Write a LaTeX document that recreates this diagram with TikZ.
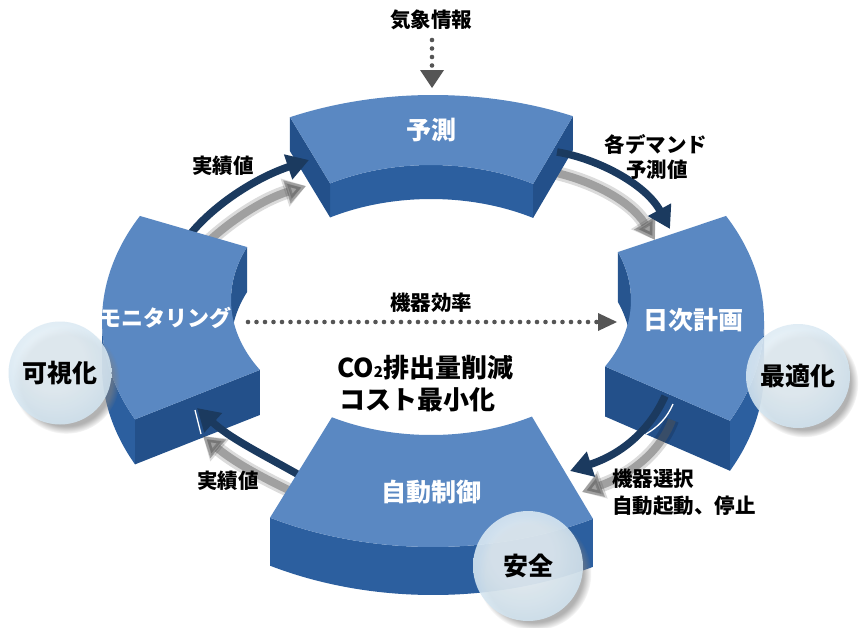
\documentclass[tikz,border=0pt]{standalone}
\usepackage{fontspec}
\newfontfamily\jp{Noto Sans CJK JP}
\usetikzlibrary{arrows.meta,shadows,calc}
\definecolor{topface}{HTML}{5A88C2}
\definecolor{wallc}{HTML}{2C5F9F}
\definecolor{innerc}{HTML}{27558F}
\definecolor{capc}{HTML}{23508A}
\definecolor{arrowc}{HTML}{1B3A5F}
\definecolor{dotc}{HTML}{555555}
\definecolor{bubin}{HTML}{E4EFF6}
\definecolor{bubmid}{HTML}{CBE0EE}
\definecolor{bubedge}{HTML}{9CC3DB}
\pgfdeclareradialshading{bubbleshade}{\pgfpoint{-4bp}{8bp}}{color(0bp)=(bubin); color(14bp)=(bubin); color(34bp)=(bubmid); color(50bp)=(bubedge)}
\tikzset{
  flowarrow/.style={draw=arrowc, line width=7.5pt, -{Triangle[length=22pt,width=25pt]}},
  shadowwide/.style={draw=black, line width=14pt, opacity=0.14, -{Triangle[length=22pt,width=28pt]}},
  shadowline/.style={draw=black!65, line width=8pt, opacity=0.45, -{Triangle[length=20pt,width=23pt]}},
  dotline/.style={draw=dotc, line width=4.6pt, line cap=round, dash pattern=on 0pt off 8.5pt},
  seglabel/.style={text=white, inner sep=0pt, font=\jp\bfseries\fontsize{25}{25}\selectfont},
  smalllabel/.style={text=black, inner sep=0pt, font=\jp\bfseries\fontsize{20.5}{20.5}\selectfont},
  biglabel/.style={text=black, inner sep=0pt, font=\jp\bfseries\fontsize{26}{26}\selectfont},
  bubblenode/.style={circle, inner sep=0pt, shading=bubbleshade, fill opacity=0.88, text opacity=1,
    circular drop shadow={shadow xshift=6pt, shadow yshift=-7pt, shadow scale=1.04, opacity=0.6},
    font=\jp\bfseries\fontsize{25}{25}\selectfont},
}
\begin{document}
\begin{tikzpicture}[x=1pt,y=-1pt]
\useasboundingbox (0,0) rectangle (859,627);
\fill[white] (0,0) rectangle (859,627);
\coordinate (Oc) at (433,321);
\coordinate (Ic) at (431,300);
% ---------- corner points
\coordinate (TOl) at ($(Oc)+(244.4:331 and 226)$);
\coordinate (TOr) at ($(Oc)+(295:331 and 226)$);
\coordinate (TIl) at ($(Ic)+(239.7:200 and 135)$);
\coordinate (TIr) at ($(Ic)+(300.7:200 and 135)$);
\coordinate (ROt) at ($(Oc)+(332.3:331 and 226)$);
\coordinate (ROb) at ($(Oc)+(26.2:331 and 226)$);
\coordinate (ROm) at ($(Oc)+(0:331 and 226)$);
\coordinate (RIt) at ($(Ic)+(339.2:200 and 135)$);
\coordinate (RIb) at ($(Ic)+(29.5:200 and 135)$);
\coordinate (LOt) at ($(Oc)+(207.7:331 and 226)$);
\coordinate (LOb) at ($(Oc)+(154.2:331 and 226)$);
\coordinate (LIt) at ($(Ic)+(203.1:200 and 135)$);
\coordinate (LIb) at ($(Ic)+(148.8:200 and 135)$);
\coordinate (LIm) at ($(Ic)+(180:200 and 135)$);
\coordinate (BOr) at ($(Oc)+(61.1:331 and 226)$);
\coordinate (BOl) at ($(Oc)+(119.5:331 and 226)$);
\coordinate (BIl) at ($(Ic)+(119.7:200 and 135)$);
\coordinate (BIr) at ($(Ic)+(59.7:200 and 135)$);
% arrow end points
\coordinate (a1s) at (188,237); \coordinate (a1e) at (309,160);
\coordinate (a1ss) at (192,258); \coordinate (a1se) at (306,186);
\coordinate (a2s) at (557,152); \coordinate (a2e) at (670,229);
\coordinate (a2ss) at (552,172); \coordinate (a2se) at (655,240);
\coordinate (a3s) at (665,396); \coordinate (a3e) at (570,471);
\coordinate (a3ss) at (672,420); \coordinate (a3se) at (582,492);
\coordinate (a4s) at (306,479); \coordinate (a4e) at (197,408);
\coordinate (a4ss) at (306,498); \coordinate (a4se) at (203,436);
% ---------- shadows behind top/right blocks
\draw[shadowwide] (a2ss) .. controls (590,180) and (630,200) .. (a2se);
\draw[shadowline] (a2ss) .. controls (590,180) and (630,200) .. (a2se);
\draw[shadowwide] (a1ss) .. controls (215,232) and (255,202) .. (a1se);
\draw[shadowline] (a1ss) .. controls (215,232) and (255,202) .. (a1se);
% ---------- top segment
\fill[wallc] (TIl) arc[start angle=239.7,end angle=300.7,x radius=200,y radius=135] -- ++(0,34) arc[start angle=300.7,end angle=239.7,x radius=200,y radius=135] -- cycle;
\fill[capc] (TOl) -- (TIl) -- ++(0,34) -- ($(TOl)+(0,34)$) -- cycle;
\fill[capc] (TOr) -- (TIr) -- ++(0,34) -- ($(TOr)+(0,34)$) -- cycle;
\fill[topface] (TOl) arc[start angle=244.4,end angle=295,x radius=331,y radius=226] -- (TIr) arc[start angle=300.7,end angle=239.7,x radius=200,y radius=135] -- cycle;
% ---------- right segment
\fill[wallc] (ROm) arc[start angle=0,end angle=26.2,x radius=331,y radius=226] -- ++(0,50) arc[start angle=26.2,end angle=0,x radius=331,y radius=226] -- cycle;
\fill[innerc] (RIt) arc[start angle=339.2,end angle=360,x radius=200,y radius=135] -- ++(0,50) arc[start angle=360,end angle=339.2,x radius=200,y radius=135] -- cycle;
\fill[capc] (RIb) -- (ROb) -- ++(0,50) -- ($(RIb)+(0,50)$) -- cycle;
\fill[topface] (ROt) arc[start angle=332.3,end angle=386.2,x radius=331,y radius=226] -- (RIb) arc[start angle=389.5,end angle=339.2,x radius=200,y radius=135] -- cycle;
% ---------- arrows top
\draw[flowarrow] (a2s) .. controls (595,158) and (645,183) .. (a2e);
\draw[flowarrow] (a1s) .. controls (212,206) and (255,178) .. (a1e);
% ---------- left segment
\fill[wallc] (LOb) arc[start angle=154.2,end angle=180,x radius=331,y radius=226] -- ++(0,45) arc[start angle=180,end angle=154.2,x radius=331,y radius=226] -- cycle;
\fill[innerc] (LIm) arc[start angle=180,end angle=203.1,x radius=200,y radius=135] -- ++(0,45) arc[start angle=203.1,end angle=180,x radius=200,y radius=135] -- cycle;
\fill[capc] (LOb) -- (LIb) -- ++(0,45) -- ($(LOb)+(0,45)$) -- cycle;
\fill[topface] (LOb) arc[start angle=154.2,end angle=207.7,x radius=331,y radius=226] -- (LIt) arc[start angle=203.1,end angle=148.8,x radius=200,y radius=135] -- cycle;
% ---------- lower-left arrow
\draw[shadowwide] (a4ss) .. controls (268,481) and (235,463) .. (a4se);
\draw[shadowline] (a4ss) .. controls (268,481) and (235,463) .. (a4se);
\draw[flowarrow] (a4s) .. controls (268,457) and (232,440) .. (a4e);
\coordinate (w4a) at (195,410); \coordinate (w4b) at (201,434);
\draw[white, line width=1.3pt] (w4a) -- (w4b);
% ---------- bottom segment
\fill[wallc] (BOr) arc[start angle=61.1,end angle=119.5,x radius=331,y radius=226] -- ++(0,48) arc[start angle=119.5,end angle=61.1,x radius=331,y radius=226] -- cycle;
\fill[topface] (BOr) arc[start angle=61.1,end angle=119.5,x radius=331,y radius=226] -- (BIl) arc[start angle=119.7,end angle=59.7,x radius=200,y radius=135] -- cycle;
% ---------- lower-right arrow
\draw[shadowwide] (a3ss) .. controls (660,452) and (630,475) .. (a3se);
\draw[shadowline] (a3ss) .. controls (660,452) and (630,475) .. (a3se);
\draw[flowarrow] (a3s) .. controls (650,430) and (622,454) .. (a3e);
\coordinate (w3a) at (673,404); \coordinate (w3b) at (646,434);
\draw[white, line width=1.3pt] (w3a) .. controls (667,418) and (658,427) .. (w3b);
% ---------- dotted arrows
\coordinate (d1s) at (432,40); \coordinate (d1e) at (432,88);
\draw[dotline] (d1s) -- ($(d1e)+(0,-18)$);
\fill[dotc] ($(d1e)+(-12,-18)$) -- ($(d1e)+(12,-18)$) -- (d1e) -- cycle;
\coordinate (d2s) at (248,322); \coordinate (d2e) at (617,322);
\draw[dotline] (d2s) -- ($(d2e)+(-20,0)$);
\fill[dotc] ($(d2e)+(-19,-9)$) -- ($(d2e)+(-19,9)$) -- (d2e) -- cycle;
% ---------- labels
\node[smalllabel] (weather) at (431,20) {気象情報};
\node[seglabel] (yosoku) at (431,130) {予測};
\node[smalllabel] (jisseki1) at (223,166) {実績値};
\node[smalllabel] (demand1) at (656,144) {各デマンド};
\node[smalllabel] (demand2) at (657,170) {予測値};
\node[seglabel, font=\jp\bfseries\fontsize{22}{22}\selectfont] (monitor) at (165,318) {モニタリング};
\node[smalllabel] (kouritsu) at (431,303) {機器効率};
\node[seglabel] (nichiji) at (693,320) {日次計画};
\node[biglabel, anchor=west] (co2) at (337,368) {CO{\fontsize{15}{15}\selectfont 2}排出量削減};
\node[biglabel, anchor=west] (cost) at (339,400) {コスト最小化};
\node[smalllabel] (jisseki2) at (228,481) {実績値};
\node[smalllabel, anchor=west] (sentaku) at (612,479) {機器選択};
\node[smalllabel, anchor=west] (kidou) at (612,506) {自動起動、停止};
\node[seglabel] (seigyo) at (431,492) {自動制御};
% ---------- bubbles
\node[bubblenode, minimum size=103pt] (kashika) at (60,373) {可視化};
\node[bubblenode, minimum size=104pt] (saiteki) at (798,376) {最適化};
\node[bubblenode, minimum size=110pt] (anzen) at (528,566) {安全};
\end{tikzpicture}
\end{document}
